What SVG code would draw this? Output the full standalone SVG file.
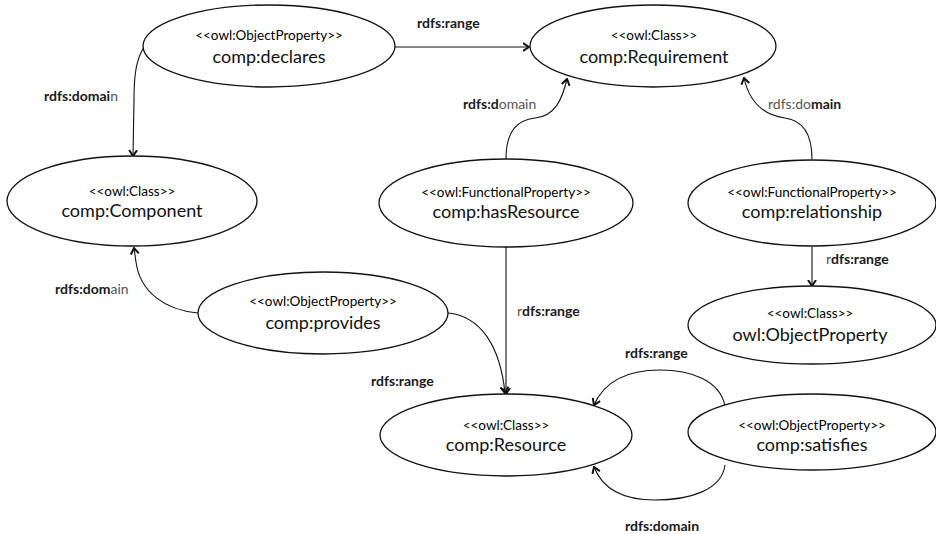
<svg xmlns="http://www.w3.org/2000/svg" width="936" height="534" viewBox="0 0 936 534">
<style>
.node ellipse{fill:#fff;stroke:#111;stroke-width:1.3}
.st{font-family:Lato,"Liberation Sans",sans-serif;font-size:13.5px;fill:#000;text-anchor:middle}
.nm{font-family:Lato,"Liberation Sans",sans-serif;font-size:18px;fill:#111;text-anchor:middle}
.edge path{fill:none;stroke:#111;stroke-width:1.1}
.lbl{font-family:Lato,"Liberation Sans",sans-serif;font-size:14px;fill:#1a1a1a;font-weight:bold}
.lt{font-weight:normal;fill:#555}
</style>
<defs>
<marker id="arr" viewBox="0 0 8 10" refX="6.5" refY="5" markerWidth="8" markerHeight="10" markerUnits="userSpaceOnUse" orient="auto">
<path d="M0.5,1 L6.5,5 L0.5,9" fill="none" stroke="#111" stroke-width="2"/>
</marker>
</defs>
<rect width="936" height="534" fill="#fff"/>
<g id="connectors" class="edge">
<path d="M395,47 L529,47" marker-end="url(#arr)"/>
<path d="M144,47 C136,60 134,75 134,100 L133,156" marker-end="url(#arr)"/>
<path d="M506,159 C506,130 518,120 535,118 C555,116 562,100 567,79" marker-end="url(#arr)"/>
<path d="M812,159 C812,130 800,120 785,118 C762,115 749,100 744,78" marker-end="url(#arr)"/>
<path d="M812,247 L812,286" marker-end="url(#arr)"/>
<path d="M506,247 L506,394" marker-end="url(#arr)"/>
<path d="M198,313 C165,310 140,292 136,262 L134,248" marker-end="url(#arr)"/>
<path d="M448,313 C480,316 500,345 505,393" marker-end="url(#arr)"/>
<path d="M725,406 C720,380 690,370 660,370 C630,370 605,380 594,405" marker-end="url(#arr)"/>
<path d="M725,465 C722,490 690,500 655,500 C625,500 603,490 594,467" marker-end="url(#arr)"/>
</g>
<g id="labels">
<text class="lbl" x="417" y="28">rdfs:range</text>
<text class="lbl" x="44" y="101">rdfs:domai<tspan class="lt">n</tspan></text>
<text class="lbl" x="463" y="109">rdfs:d<tspan class="lt">omain</tspan></text>
<text class="lbl" x="768" y="109"><tspan class="lt">rdfs:do</tspan>main</text>
<text class="lbl" x="826" y="264"><tspan class="lt">r</tspan>dfs:range</text>
<text class="lbl" x="517" y="316"><tspan class="lt">r</tspan>dfs:range</text>
<text class="lbl" x="55" y="294">rdfs:dom<tspan class="lt">ain</tspan></text>
<text class="lbl" x="371" y="386">rdfs:range</text>
<text class="lbl" x="625" y="358">rdfs:range</text>
<text class="lbl" x="625" y="531">rdfs:domain</text>
</g>
<g id="declares" class="node">
<ellipse cx="269" cy="46" rx="126" ry="41"/>
<text class="st" x="269" y="40">&lt;&lt;owl:ObjectProperty&gt;&gt;</text>
<text class="nm" x="269" y="63">comp:declares</text>
</g>
<g id="requirement" class="node">
<ellipse cx="653" cy="46" rx="123" ry="41"/>
<text class="st" x="654" y="40">&lt;&lt;owl:Class&gt;&gt;</text>
<text class="nm" x="654" y="63">comp:Requirement</text>
</g>
<g id="component" class="node">
<ellipse cx="132" cy="201" rx="125" ry="45"/>
<text class="st" x="132" y="196">&lt;&lt;owl:Class&gt;&gt;</text>
<text class="nm" x="132" y="217">comp:Component</text>
</g>
<g id="hasResource" class="node">
<ellipse cx="506" cy="203" rx="127" ry="44"/>
<text class="st" x="506" y="197">&lt;&lt;owl:FunctionalProperty&gt;&gt;</text>
<text class="nm" x="506" y="218">comp:hasResource</text>
</g>
<g id="relationship" class="node">
<ellipse cx="812" cy="203" rx="124" ry="43"/>
<text class="st" x="812" y="197">&lt;&lt;owl:FunctionalProperty&gt;&gt;</text>
<text class="nm" x="812" y="218">comp:relationship</text>
</g>
<g id="objectProperty" class="node">
<ellipse cx="812" cy="325" rx="124" ry="39"/>
<text class="st" x="810" y="318">&lt;&lt;owl:Class&gt;&gt;</text>
<text class="nm" x="810" y="341">owl:ObjectProperty</text>
</g>
<g id="provides" class="node">
<ellipse cx="323" cy="313" rx="125" ry="41"/>
<text class="st" x="323" y="306">&lt;&lt;owl:ObjectProperty&gt;&gt;</text>
<text class="nm" x="323" y="329">comp:provides</text>
</g>
<g id="resource" class="node">
<ellipse cx="506" cy="435" rx="126" ry="41"/>
<text class="st" x="506" y="430">&lt;&lt;owl:Class&gt;&gt;</text>
<text class="nm" x="506" y="451">comp:Resource</text>
</g>
<g id="satisfies" class="node">
<ellipse cx="812" cy="432" rx="124" ry="38"/>
<text class="st" x="812" y="430">&lt;&lt;owl:ObjectProperty&gt;&gt;</text>
<text class="nm" x="812" y="451">comp:satisfies</text>
</g>
</svg>
